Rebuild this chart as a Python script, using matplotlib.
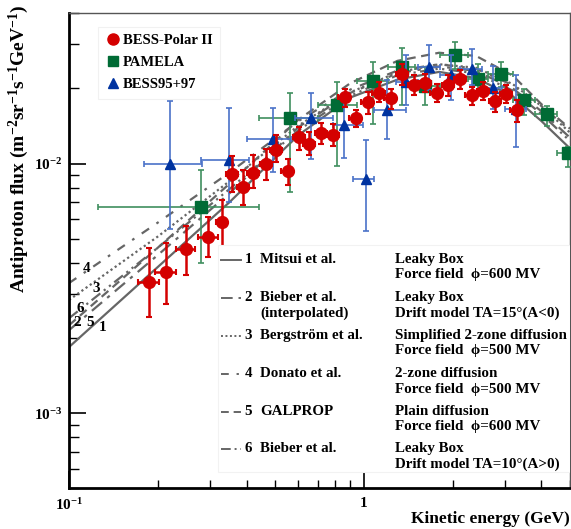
import matplotlib
matplotlib.use("Agg")
import matplotlib.pyplot as plt
from matplotlib.lines import Line2D
from matplotlib.patches import Rectangle
from matplotlib.ticker import LogLocator, NullFormatter, FixedLocator, FixedFormatter
import numpy as np

plt.rcParams["font.family"] = ["Liberation Serif", "DejaVu Serif"]
plt.rcParams["font.weight"] = "bold"
plt.rcParams["axes.labelweight"] = "bold"
plt.rcParams["mathtext.fontset"] = "custom"
plt.rcParams["mathtext.rm"] = "Liberation Serif:bold"
plt.rcParams["mathtext.bf"] = "Liberation Serif:bold"
plt.rcParams["mathtext.default"] = "bf"

# BESS-Polar II
bess_e = [0.187, 0.213, 0.249, 0.296, 0.330, 0.358, 0.390, 0.421, 0.465, 0.505, 0.551,
          0.604, 0.653, 0.715, 0.787, 0.860, 0.937, 1.029, 1.122, 1.232, 1.345, 1.477,
          1.610, 1.764, 1.931, 2.116, 2.318, 2.537, 2.781, 3.030, 3.293]
bess_xerr = [0.015, 0.017, 0.019, 0.023, 0.014, 0.017, 0.018, 0.020, 0.022, 0.024, 0.026,
             0.028, 0.031, 0.034, 0.037, 0.040, 0.044, 0.048, 0.053, 0.058, 0.063, 0.069,
             0.076, 0.083, 0.091, 0.099, 0.109, 0.119, 0.131, 0.142, 0.155]
bess_flux = [3.36e-3, 3.68e-3, 4.54e-3, 5.09e-3, 5.82e-3, 9.12e-3, 8.06e-3, 9.17e-3, 9.94e-3,
             1.138e-2, 9.31e-3, 1.272e-2, 1.202e-2, 1.326e-2, 1.298e-2, 1.846e-2, 1.518e-2,
             1.763e-2, 1.923e-2, 1.830e-2, 2.291e-2, 2.070e-2, 2.101e-2, 1.916e-2, 2.057e-2,
             2.188e-2, 1.876e-2, 1.951e-2, 1.775e-2, 1.905e-2, 1.644e-2]
bess_lo = [2.43e-3, 2.74e-3, 3.57e-3, 4.21e-3, 4.61e-3, 7.70e-3, 6.81e-3, 7.95e-3, 8.63e-3,
           1.015e-2, 8.19e-3, 1.13e-2, 1.079e-2, 1.202e-2, 1.173e-2, 1.685e-2, 1.401e-2,
           1.585e-2, 1.763e-2, 1.660e-2, 2.057e-2, 1.876e-2, 1.934e-2, 1.763e-2, 1.858e-2,
           1.995e-2, 1.711e-2, 1.791e-2, 1.609e-2, 1.747e-2, 1.467e-2]
bess_hi = [4.60e-3, 4.79e-3, 5.61e-3, 6.11e-3, 7.13e-3, 1.07e-2, 9.46e-3, 1.08e-2, 1.148e-2,
           1.298e-2, 1.047e-2, 1.401e-2, 1.338e-2, 1.454e-2, 1.445e-2, 1.995e-2, 1.634e-2,
           1.934e-2, 2.121e-2, 1.995e-2, 2.512e-2, 2.256e-2, 2.291e-2, 2.076e-2, 2.256e-2,
           2.361e-2, 2.025e-2, 2.121e-2, 1.934e-2, 2.057e-2, 1.791e-2]

# PAMELA
pamela_edges = [0.125, 0.442, 0.70, 0.945, 1.21, 1.49, 1.81, 2.26, 2.64, 3.2, 3.8, 4.5, 5.4]
pamela_e = [0.2795, 0.561, 0.812, 1.075, 1.345, 1.61, 2.035, 2.429, 2.913, 3.486, 4.162, 4.926]
pamela_flux = [6.68e-3, 1.528e-2, 1.722e-2, 2.140e-2, 2.434e-2, 2.04e-2, 2.719e-2, 2.188e-2,
               2.276e-2, 1.791e-2, 1.575e-2, 1.107e-2]
pamela_lo = [3.98e-3, 7.70e-3, 9.75e-3, 1.445e-2, 1.711e-2, 1.711e-2, 2.399e-2, 1.934e-2,
             2.025e-2, 1.560e-2, 1.410e-2, 9.69e-3]
pamela_hi = [9.40e-3, 1.916e-2, 2.121e-2, 2.549e-2, 2.911e-2, 2.434e-2, 3.064e-2, 2.512e-2,
             2.549e-2, 1.995e-2, 1.695e-2, 1.165e-2]

# BESS95+97
b97_e = [0.220, 0.350, 0.490, 0.661, 0.854, 1.013, 1.194, 1.391, 1.665, 1.968, 2.318, 2.731, 3.276]
b97_elo = [0.180, 0.281, 0.401, 0.583, 0.786, 0.920, 1.084, 1.284, 1.528, 1.810, 2.116, 2.506, 3.006]
b97_ehi = [0.282, 0.409, 0.566, 0.786, 0.992, 1.084, 1.385, 1.525, 1.810, 2.116, 2.506, 2.931, 3.560]
b97_flux = [9.94e-3, 1.036e-2, 1.259e-2, 1.528e-2, 1.432e-2, 8.65e-3, 1.644e-2, 2.128e-2,
            2.434e-2, 2.256e-2, 2.383e-2, 2.014e-2, 1.649e-2]
b97_lo = [5.45e-3, 7.02e-3, 9.23e-3, 1.047e-2, 1.05e-2, 5.36e-3, 1.259e-2, 1.711e-2, 1.964e-2,
          1.791e-2, 2.066e-2, 1.649e-2, 1.165e-2]
b97_hi = [1.775e-2, 1.664e-2, 1.675e-2, 1.916e-2, 1.791e-2, 1.247e-2, 2.154e-2, 2.712e-2,
          2.992e-2, 2.712e-2, 2.884e-2, 2.457e-2, 2.256e-2]

# model curves
model_e = [0.1, 0.2, 0.35, 0.6, 0.9, 1.3, 1.8, 2.4, 3.2, 4.0, 5.0]
mitsui = [1.84e-3, 3.85e-3, 7.0e-3, 1.3e-2, 1.84e-2, 2.17e-2, 2.33e-2, 2.2e-2, 1.86e-2, 1.48e-2, 1.15e-2]
bieber_interp = [2.15e-3, 4.3e-3, 7.6e-3, 1.4e-2, 1.92e-2, 2.3e-2, 2.45e-2, 2.35e-2, 2.0e-2, 1.62e-2, 1.27e-2]
bergstrom = [2.84e-3, 5.1e-3, 8.5e-3, 1.42e-2, 1.93e-2, 2.32e-2, 2.5e-2, 2.42e-2, 2.08e-2, 1.7e-2, 1.33e-2]
donato = [3.32e-3, 5.8e-3, 9.2e-3, 1.48e-2, 1.98e-2, 2.36e-2, 2.5e-2, 2.4e-2, 2.06e-2, 1.7e-2, 1.36e-2]
galprop = [2.25e-3, 4.6e-3, 8.3e-3, 1.5e-2, 2.1e-2, 2.58e-2, 2.78e-2, 2.7e-2, 2.25e-2, 1.73e-2, 1.38e-2]
bieber = [2.4e-3, 4.6e-3, 7.9e-3, 1.36e-2, 1.87e-2, 2.26e-2, 2.4e-2, 2.3e-2, 1.96e-2, 1.58e-2, 1.23e-2]

model_numbers = ["1", "2", "3", "4", "5", "6"]
model_names = ["Mitsui et al.", "Bieber et al.\n(interpolated)", "Bergstr\u00f6m et al.",
               "Donato et al.", "GALPROP", "Bieber et al."]
model_desc = ["Leaky Box\nForce field  \u03d5=600 MV",
              "Leaky Box\nDrift model TA=15\u00b0(A<0)",
              "Simplified 2-zone diffusion\nForce field  \u03d5=500 MV",
              "2-zone diffusion\nForce field  \u03d5=500 MV",
              "Plain diffusion\nForce field  \u03d5=600 MV",
              "Leaky Box\nDrift model TA=10\u00b0(A>0)"]
# where the curve numbers sit (E, flux)
label_pos = [(0.130, 2.2e-3), (0.1062, 2.3e-3), (0.1234, 3.15e-3),
             (0.115, 3.8e-3), (0.1178, 2.3e-3), (0.109, 2.63e-3)]

RED = "#d40000"
GREEN = "#006b35"
BLUE = "#0033a0"
GRAY = "#666666"

styles = ["-", (0, (6, 3, 1.5, 3)), (0, (1, 1.3)), (0, (4, 4, 1.2, 4)),
          (0, (4, 2.5)), (0, (5, 2, 1, 2, 1, 2))]

W, H = 571, 529
fig = plt.figure(figsize=(W / 100, H / 100), dpi=100)
L, R, T, B = 69, 570, 13.3, 488.3
ax = fig.add_axes([L / W, 1 - B / H, (R - L) / W, (B - T) / H])
ax.set_xscale("log")
ax.set_yscale("log")
ax.set_xlim(0.1, 5.0)
ax.set_ylim(5e-4, 4e-2)


def axfrac(px, py):
    return ((px - L) / (R - L), (B - py) / (B - T))


curves = [mitsui, bieber_interp, bergstrom, donato, galprop, bieber]
for vals, ls in zip(curves, styles):
    ax.plot(model_e, vals, color=GRAY, lw=1.6, ls=ls, zorder=2)

for num, (xe, yf) in zip(model_numbers, label_pos):
    ax.text(xe, yf, num, fontsize=11, ha="center", va="center", zorder=3)

# data
bf = np.array(bess_flux)
ax.errorbar(bess_e, bf, xerr=bess_xerr, yerr=[bf - np.array(bess_lo), np.array(bess_hi) - bf],
            fmt="o", color=RED, ms=8.5, ecolor=RED, elinewidth=1.8, capsize=2, capthick=1.5,
            zorder=6)

pe = np.array(pamela_e)
pedges = np.array(pamela_edges)
pf = np.array(pamela_flux)
ax.errorbar(pe, pf, xerr=[pe - pedges[:-1], pedges[1:] - pe],
            yerr=[pf - np.array(pamela_lo), np.array(pamela_hi) - pf],
            fmt="s", color=GREEN, ms=8, ecolor="#3f8f5f", elinewidth=1.2, capsize=2,
            capthick=1.2, zorder=4)

be = np.array(b97_e)
bfl = np.array(b97_flux)
ax.errorbar(be, bfl, xerr=[be - np.array(b97_elo), np.array(b97_ehi) - be],
            yerr=[bfl - np.array(b97_lo), np.array(b97_hi) - bfl],
            fmt="^", color=BLUE, ms=7.5, ecolor="#4a72c8", elinewidth=1.2, capsize=2,
            capthick=1.2, zorder=5)

handles = [Line2D([], [], ls="none", marker="o", color=RED, ms=8),
           Line2D([], [], ls="none", marker="s", color=GREEN, ms=7.5),
           Line2D([], [], ls="none", marker="^", color=BLUE, ms=7.5)]
leg = ax.legend(handles, ["BESS-Polar II", "PAMELA", "BESS95+97"], loc="upper left",
                bbox_to_anchor=axfrac(98, 27), fontsize=10.5, frameon=True,
                fancybox=False, edgecolor="#eeeeee", handletextpad=0.2,
                handlelength=1.0, borderpad=0.5, labelspacing=0.6, borderaxespad=0)
leg.get_frame().set_linewidth(0.8)

# model legend box
x0, y0 = axfrac(218, 472)
x1, y1 = axfrac(570, 245)
ax.add_patch(Rectangle((x0, y0), x1 - x0, y1 - y0, transform=ax.transAxes,
                       facecolor="white", edgecolor="#f2f2f2", lw=0.8, zorder=7))
row_y = [260, 298.3, 336, 374, 411.7, 449]
for num, name, desc, ls, ry in zip(model_numbers, model_names, model_desc, styles, row_y):
    sx0, sy = axfrac(221, ry)
    sx1, _ = axfrac(241, ry)
    ax.add_line(Line2D([sx0, sx1], [sy, sy], transform=ax.transAxes, color=GRAY,
                       lw=1.4, ls=ls, zorder=8))
    _, ty = axfrac(0, ry - 7)
    nx, _ = axfrac(252, ry)
    ax.text(nx, ty, num, transform=ax.transAxes, fontsize=10.8, ha="right", va="top",
            zorder=8)
    mx, _ = axfrac(260, ry)
    ax.text(mx, ty, name, transform=ax.transAxes, fontsize=10.8, ha="left", va="top",
            linespacing=1.25, zorder=8)
    dx, _ = axfrac(395, ry)
    ax.text(dx, ty, desc, transform=ax.transAxes, fontsize=10.8, ha="left", va="top",
            linespacing=1.25, zorder=8)

# axes styling
for side in ["left", "bottom"]:
    ax.spines[side].set_linewidth(2.0)
    ax.spines[side].set_color("black")
for side in ["top", "right"]:
    ax.spines[side].set_linewidth(1.0)
    ax.spines[side].set_color("#555555")

ax.xaxis.set_major_locator(FixedLocator([0.1, 1.0]))
ax.xaxis.set_major_formatter(FixedFormatter([r"$10^{-1}$", "1"]))
ax.xaxis.set_minor_locator(LogLocator(base=10, subs=np.arange(2, 10)))
ax.xaxis.set_minor_formatter(NullFormatter())
ax.yaxis.set_major_locator(FixedLocator([1e-3, 1e-2]))
ax.yaxis.set_major_formatter(FixedFormatter([r"$10^{-3}$", r"$10^{-2}$"]))
ax.yaxis.set_minor_locator(LogLocator(base=10, subs=np.arange(2, 10)))
ax.yaxis.set_minor_formatter(NullFormatter())
ax.tick_params(which="both", direction="in", top=False, right=False, labelsize=11)
ax.tick_params(axis="y", which="major", length=12, width=1.2, pad=5)
ax.tick_params(axis="y", which="minor", length=7, width=1.0)
ax.tick_params(axis="x", which="major", length=12, width=1.2, pad=6)
ax.tick_params(axis="x", which="minor", length=6, width=1.0)

ax.set_xlabel("Kinetic energy (GeV)", fontsize=12.5, fontweight="bold", ha="right", va="center")
ax.xaxis.set_label_coords(1.0, axfrac(0, 519)[1])
ax.set_ylabel(r"Antiproton flux (m$^{-2}$sr$^{-1}$s$^{-1}$GeV$^{-1}$)", fontsize=14,
              fontweight="bold", ha="right", va="center")
ax.yaxis.set_label_coords(axfrac(19, 0)[0], axfrac(0, 4)[1])

fig.savefig("out.png", dpi=100)
plt.close(fig)
